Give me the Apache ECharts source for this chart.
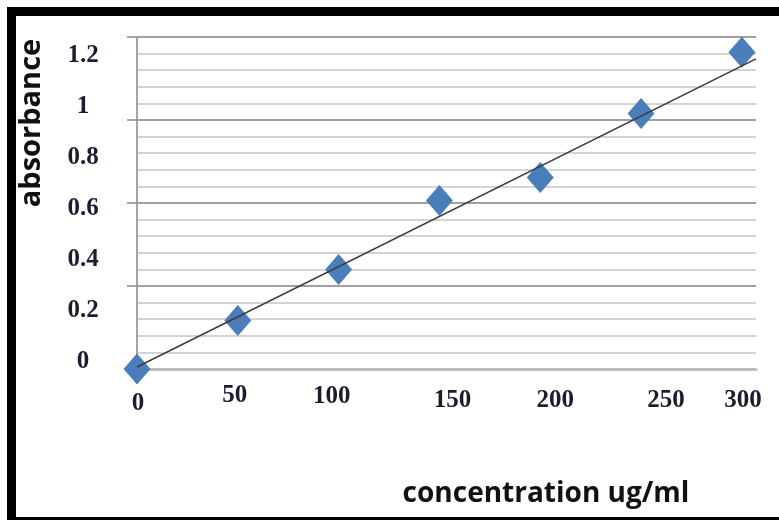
<!DOCTYPE html>
<html>
<head>
<meta charset="utf-8">
<script src="https://cdn.jsdelivr.net/npm/echarts@6/dist/echarts.min.js"></script>
<style>
  html, body { margin: 0; padding: 0; background: #fff; overflow: hidden; }
  #wrap { position: relative; width: 779px; height: 520px; overflow: hidden; }
  #chart { position: absolute; left: 0; top: 0; width: 779px; height: 520px; }
  .frame { position: absolute; background: #000; }
</style>
</head>
<body>
<div id="wrap">
  <div id="chart"></div>
  <div class="frame" style="left:7px; top:7px; width:772px; height:9px;"></div>
  <div class="frame" style="left:7px; top:7px; width:9px; height:513px;"></div>
  <div class="frame" style="left:7px; top:517px; width:772px; height:3px;"></div>
</div>
<script>
// values
const concentration = [0, 50, 100, 150, 200, 250, 300]
const absorbance = [0, 0.19, 0.39, 0.66, 0.75, 1.0, 1.24]
// trend line as drawn in the picture
const trendIntercept = 0.008
const trendSlope = 0.00393

const xMax = 307
const yMax = 1.3

const serif = "'Liberation Serif', 'Times New Roman', serif"
const sans = "'Open Sans', 'Liberation Sans', sans-serif"

function tickFont (extra) {
  return Object.assign({
    fontFamily: serif,
    fontWeight: 'bold',
    fontSize: 25,
    lineHeight: 22,
    color: '#1c1c30'
  }, extra)
}

// the tick labels in the picture are nudged by hand, one by one
const xLabelRich = {
  x0: tickFont({ padding: [18, 0, 0, 2] }),
  x50: tickFont({ padding: [2, 6, 0, 0] }),
  x100: tickFont({ padding: [4, 14, 0, 0] }),
  x150: tickFont({ padding: [12, 0, 0, 26] }),
  x200: tickFont({ padding: [12, 0, 0, 30] }),
  x250: tickFont({ padding: [12, 0, 0, 50] }),
  x300: tickFont({ padding: [12, 0, 0, 2] })
}

const chart = echarts.init(document.getElementById('chart'))

const option = {
  animation: false,
  grid: {
    left: 137,
    top: 37,
    width: 619,
    height: 332,
    outerBoundsMode: 'none'
  },
  graphic: [
    {
      type: 'text',
      x: 32,
      y: 123,
      rotation: Math.PI / 2,
      style: {
        text: 'absorbance',
        font: 'bold 29px ' + sans,
        fill: '#111',
        align: 'center',
        verticalAlign: 'middle'
      }
    },
    {
      type: 'text',
      x: 546,
      y: 494,
      style: {
        text: 'concentration ug/ml',
        font: 'bold 28px ' + sans,
        fill: '#111',
        align: 'center',
        verticalAlign: 'middle'
      }
    }
  ],
  xAxis: {
    type: 'value',
    min: 0,
    max: xMax,
    interval: 50,
    axisLine: { lineStyle: { color: '#bdbdbd', width: 3 } },
    axisTick: { show: false },
    splitLine: { show: false },
    axisLabel: {
      showMaxLabel: false,
      margin: 15,
      verticalAlign: 'top',
      formatter: v => '{x' + v + '|' + v + '}',
      rich: xLabelRich
    }
  },
  yAxis: [
    {
      type: 'value',
      position: 'left',
      min: 0,
      max: yMax,
      interval: 0.2,
      axisLine: { show: false },
      axisTick: { show: false },
      splitLine: { show: false },
      axisLabel: tickFont({
        showMaxLabel: false,
        margin: 54,
        align: 'center',
        verticalAlign: 'bottom',
        lineHeight: 14
      })
    },
    {
      // minor grid lines
      type: 'value',
      position: 'left',
      offset: 0,
      min: 0,
      max: 20,
      interval: 1,
      axisLine: { show: false },
      axisTick: { show: false },
      axisLabel: { show: false },
      splitLine: { lineStyle: { color: '#d3d3d3', width: 2 } }
    },
    {
      // major grid lines and left axis
      type: 'value',
      position: 'left',
      offset: 0,
      min: 0,
      max: 4,
      interval: 1,
      axisLine: { show: true, lineStyle: { color: '#a3a3a3', width: 2 } },
      axisTick: { show: true, length: 10, lineStyle: { color: '#8c8c8c', width: 1.5 } },
      axisLabel: { show: false },
      splitLine: { lineStyle: { color: '#8f8f8f', width: 1.5 } }
    }
  ],
  series: [
    {
      type: 'scatter',
      symbol: 'diamond',
      symbolSize: [27, 31],
      clip: false,
      z: 2,
      itemStyle: { color: '#4a7ebb', opacity: 1 },
      data: concentration.map((c, i) => [c, absorbance[i]])
    },
    {
      type: 'line',
      symbol: 'none',
      z: 3,
      lineStyle: { color: '#3a3a3a', width: 1.5 },
      data: [
        [0, trendIntercept],
        [xMax, trendIntercept + trendSlope * xMax]
      ]
    }
  ]
}

chart.setOption(option)
</script>
</body>
</html>
